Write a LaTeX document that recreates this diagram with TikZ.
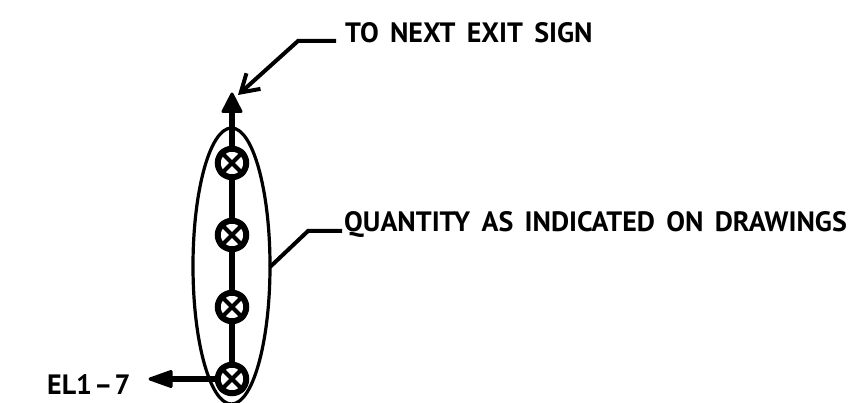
\documentclass[tikz,border=0pt]{standalone}
\usepackage{fontspec}
\setmainfont[WordSpace=1.6]{PT Sans}
\usetikzlibrary{shapes,arrows.meta}
\tikzset{>=stealth}
\tikzset{
    lamp/.style={draw,circle,line width=6pt,fill=white,minimum size=28.5pt,inner sep=0pt},
    wire/.style={line width=6.4pt},
    head/.style={fill,draw,line join=round,line width=3pt},
    leader/.style={line width=4pt},
    callout/.style={anchor=base west,inner sep=0pt,font=\fontsize{28}{28}\selectfont\bfseries}
}

\begin{document}
\begin{tikzpicture}[x=1pt,y=1pt]
    \useasboundingbox (0,0) rectangle (848,403);

    \begin{scope}
    \clip (0,0) rectangle (848,403);
    \node[draw,ellipse,line width=3.2pt,minimum width=77pt,minimum height=276pt,inner sep=0pt] (group) at (231.5,137) {};
    \end{scope}

    \node[lamp] (lampa) at (232,240) {};
    \node[lamp] (lampb) at (232,168) {};
    \node[lamp] (lampc) at (232,96) {};
    \node[lamp] (lampd) at (232,24) {};

    \coordinate (tip) at (232,296);
    \coordinate (elbase) at (165,24);
    \draw[wire] (lampa) -- (tip);
    \draw[wire] (lampa) -- (lampb);
    \draw[wire] (lampb) -- (lampc);
    \draw[wire] (lampc) -- (lampd);
    \draw[wire] (lampd) -- (elbase);
    \path[head] (223,291.5) -- (232,309) -- (241,291.5) -- cycle;
    \path[head] (171,31.5) -- (150,24) -- (171,16.5) -- cycle;

    \foreach \n in {lampa,lampb,lampc,lampd} {
        \draw[line width=4pt] (\n.45) -- (\n.225);
        \draw[line width=4pt] (\n.135) -- (\n.315);
    }

    \node[callout] (nextlabel) at (345,360) {TO NEXT EXIT SIGN};
    \node[callout] (qtylabel) at (344,171) {QUANTITY AS INDICATED ON DRAWINGS};
    \node[callout] (ellabel) at (47,8) {EL1\kern2pt--\kern2pt 7};

    \coordinate (nextbend) at (298,362);
    \coordinate (qtybend) at (308,172);
    \coordinate (nextend) at (336,362);
    \coordinate (qtyend) at (342,172);
    \coordinate (grouppoint) at (270,136);
    \coordinate (arrowend) at (238,308);

    \draw[leader,-{Straight Barb[length=17pt,width=21pt]}] (nextend) -- (nextbend) -- (arrowend);
    \draw[leader] (qtyend) -- (qtybend) -- (grouppoint);
\end{tikzpicture}
\end{document}
